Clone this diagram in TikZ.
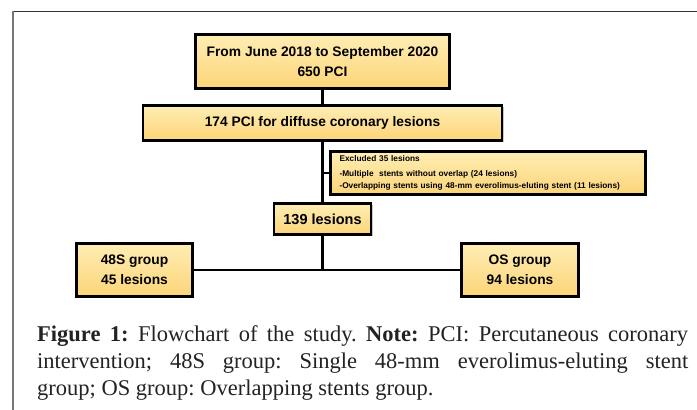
\documentclass[tikz,border=0pt]{standalone}
\usepackage{fontspec}
\setsansfont{Liberation Sans}
\newfontfamily\capfont{Liberation Serif}
\usetikzlibrary{shadows}
\definecolor{boxtop}{RGB}{255,238,180}
\definecolor{boxbot}{RGB}{252,212,120}
\definecolor{framedark}{RGB}{50,50,50}
\definecolor{framegray}{RGB}{120,120,120}
\definecolor{captext}{RGB}{35,35,35}
\tikzset{
  flowbox/.style={draw=black, line width=2.8pt, top color=boxtop, bottom color=boxbot,
    drop shadow={shadow xshift=1.5pt, shadow yshift=-1.5pt, opacity=0.35, fill=black!60},
    font=\sffamily\bfseries\fontsize{13.8}{20}\selectfont, align=center, inner sep=0pt},
  link/.style={line width=2.4pt, draw=black},
  captline/.style={anchor=base west, inner sep=0pt, font=\capfont\frenchspacing\fontsize{22.5}{27}\selectfont, text=captext}
}
\begin{document}
\begin{tikzpicture}[x=1pt,y=1pt]
\useasboundingbox (0,0) rectangle (697,-410);
\fill[white] (0,0) rectangle (697,-410);
% frame
\draw[framedark, line width=1pt] (13,-11) -- (697,-11);
\draw[framegray, line width=1.5pt] (13,-11) -- (13,-410);
% nodes
\node[flowbox, minimum width=254pt, minimum height=54pt] (b1) at (322.5,-61.5)
  {From June 2018 to September 2020\\650 PCI};
\node[flowbox, minimum width=359pt, minimum height=35pt] (b2) at (322.5,-123)
  {174 PCI for diffuse coronary lesions};
\node[flowbox, minimum width=315pt, minimum height=43pt, align=left, text width=297pt,
  font=\sffamily\bfseries\fontsize{8.3}{12}\selectfont] (ex) at (488,-173)
  {Excluded 35 lesions\\[3pt]-Multiple\ \ stents without overlap (24 lesions)\\-Overlapping stents using 48-mm everolimus-eluting stent (11 lesions)};
\node[flowbox, minimum width=97pt, minimum height=31pt, font=\sffamily\bfseries\fontsize{14.5}{20}\selectfont] (b139) at (322.5,-219)
  {139 lesions};
\node[flowbox, minimum width=116pt, minimum height=53pt] (s48) at (134.5,-270)
  {48S group\\45 lesions};
\node[flowbox, minimum width=117pt, minimum height=53pt] (os) at (520,-270)
  {OS group\\94 lesions};
% connectors
\draw[link] (b1.south) -- (b2.north);
\draw[link] (b2.south) -- (b139.north);
\draw[link] (b2.south |- ex.west) -- (ex.west);
\draw[link] (b139.south) -- (b139.south |- s48.east);
\draw[link] (s48.east) -- (os.west);
% caption
\node[captline] (c1) at (37,-341) {\makebox[651pt][s]{\textbf{Figure 1:} Flowchart of the study. \textbf{Note:} PCI: Percutaneous coronary}};
\node[captline] (c2) at (37,-368) {\makebox[651pt][s]{intervention; 48S group: Single 48-mm everolimus-eluting stent}};
\node[captline] (c3) at (37,-395) {group; OS group: Overlapping stents group.};
\end{tikzpicture}
\end{document}
